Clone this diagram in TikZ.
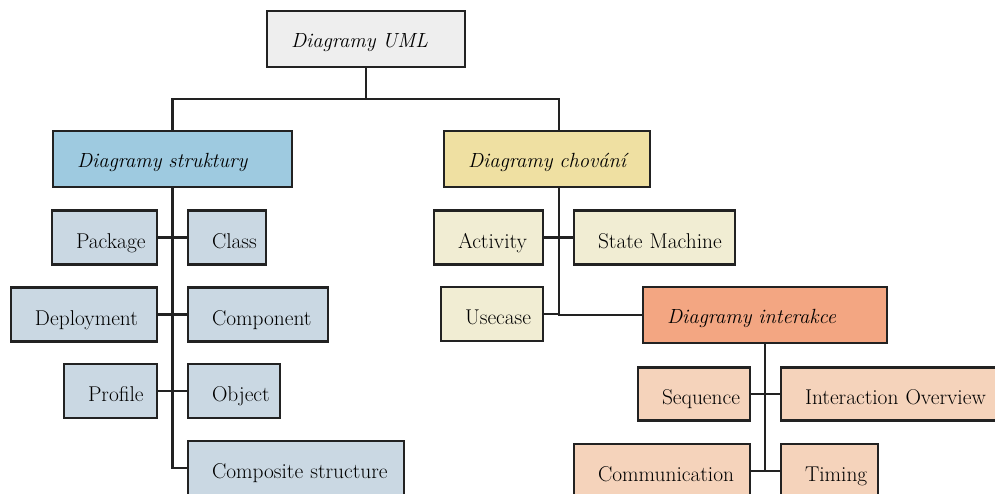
\documentclass[tikz,border=0pt]{standalone}
\usetikzlibrary{calc}
\definecolor{rootc}{HTML}{EEEEEE}
\definecolor{strc}{HTML}{9ECAE0}
\definecolor{strl}{HTML}{CAD8E3}
\definecolor{behc}{HTML}{EFE0A2}
\definecolor{behl}{HTML}{F1EDD3}
\definecolor{intc}{HTML}{F3A682}
\definecolor{intl}{HTML}{F5D3BB}
\definecolor{edge}{HTML}{222222}
\tikzset{
  sz/.style 2 args={minimum width=#1pt, minimum height=#2pt, text width=#1pt},
  boxbase/.style={draw=edge, line width=2.1pt, inner xsep=0pt, inner ysep=0pt,
    align=left},
  head/.style={boxbase, text height=17pt, text depth=0pt,
    font=\fontsize{20.5}{24}\selectfont\itshape},
  leaf/.style={boxbase, text height=21pt, text depth=0pt,
    font=\fontsize{21.4}{25}\selectfont},
  conn/.style={draw=edge, line width=2.1pt}
}
\newcommand\padt{\hspace*{24pt}}
\begin{document}
\begin{tikzpicture}[x=1pt, y=-1pt]
\useasboundingbox (0,0) rectangle (995,493);
% headers
\node[head, fill=rootc, sz={198}{56}] (root) at (366,39) {\padt Diagramy UML};
\node[head, fill=strc, sz={239}{56}] (struk) at (172.5,159) {\padt Diagramy struktury};
\node[head, fill=behc, sz={206}{56}] (chov) at (547,159) {\padt Diagramy chování};
\node[head, fill=intc, sz={244}{56}] (inter) at (765,315) {\padt Diagramy interakce};
% structure leaves
\node[leaf, fill=strl, sz={105}{54}] (package) at (104.5,237.5) {\padt Package};
\node[leaf, fill=strl, sz={78}{54}] (class) at (227,237.5) {\padt Class};
\node[leaf, fill=strl, sz={146}{54}] (deploy) at (84,314.5) {\padt Deployment};
\node[leaf, fill=strl, sz={140}{54}] (component) at (258,314.5) {\padt Component};
\node[leaf, fill=strl, sz={93}{54}] (profile) at (110.5,391) {\padt Profile};
\node[leaf, fill=strl, sz={92}{54}] (object) at (234,391) {\padt Object};
\node[leaf, fill=strl, sz={216}{54}] (composite) at (296,468) {\padt Composite structure};
% behaviour leaves
\node[leaf, fill=behl, sz={109}{54}] (activity) at (488.5,237.5) {\padt Activity};
\node[leaf, fill=behl, sz={161}{54}] (state) at (654.5,237.5) {\padt State Machine};
\node[leaf, fill=behl, sz={102}{54}] (usecase) at (492,314) {\padt Usecase};
% interaction leaves
\node[leaf, fill=intl, sz={112}{53}] (sequence) at (694,394) {\padt Sequence};
\node[leaf, fill=intl, sz={231}{53}] (overview) at (896.5,394) {\padt Interaction Overview};
\node[leaf, fill=intl, sz={176}{54}] (comm) at (662,471) {\padt Communication};
\node[leaf, fill=intl, sz={97}{54}] (timing) at (829.5,471) {\padt Timing};
% connectors
\coordinate (split) at (366,99);
\coordinate (btrunk) at (559,187);
\draw[conn] (root.south) -- (split);
\draw[conn] (struk.north) |- (split) -| (btrunk |- chov.north);
\draw[conn] (struk.south) |- (composite.west);
\draw[conn] (package.east) -- (class.west);
\draw[conn] (deploy.east) -- (component.west);
\draw[conn] (profile.east) -- (object.west);
\draw[conn] (btrunk) |- (inter.west);
\draw[conn] (activity.east) -- (state.west);
\draw[conn] (usecase.east) -- (usecase.east -| btrunk);
\draw[conn] (inter.south) -- (inter.south |- timing.west);
\draw[conn] (sequence.east) -- (overview.west);
\draw[conn] (comm.east) -- (timing.west);
\end{tikzpicture}
\end{document}
